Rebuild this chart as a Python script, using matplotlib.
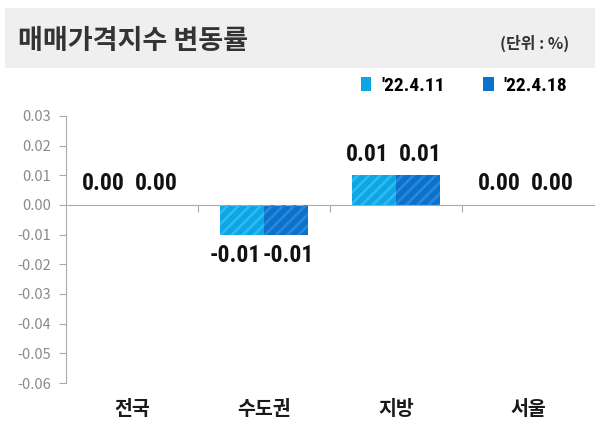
import matplotlib.pyplot as plt
from matplotlib.patches import Rectangle
from matplotlib.transforms import blended_transform_factory
from matplotlib import font_manager
import numpy as np

categories = ["전국", "수도권", "지방", "서울"]
series_names = ["'22.4.11", "'22.4.18"]
values_0411 = [0.00, -0.01, 0.01, 0.00]
values_0418 = [0.00, -0.01, 0.01, 0.00]
yticks = [0.03, 0.02, 0.01, 0.00, -0.01, -0.02, -0.03, -0.04, -0.05, -0.06]

colors = ["#0aa6e6", "#0a72cc"]
hatch_colors = ["#33b8ee", "#2a86d6"]

plt.rcParams['font.family'] = ['Noto Sans CJK KR', 'DejaVu Sans']
plt.rcParams['hatch.linewidth'] = 2.0

# narrow font for the numbers, if one is installed
names = {f.name for f in font_manager.fontManager.ttflist}
narrow = "Roboto"
for cand in ["Liberation Sans Narrow", "DejaVu Sans Condensed", "Roboto Condensed"]:
    if cand in names:
        narrow = cand
        break
num_size = 17 if narrow != "Roboto" else 14

fig = plt.figure(figsize=(6, 4.41), dpi=100)
fig.patch.set_facecolor("white")

# grey title band
fig.patches.append(Rectangle((0.008, 0.846), 0.984, 0.136, transform=fig.transFigure,
                             facecolor="#efefef", edgecolor="none", zorder=0))
fig.text(0.03, 0.907, "매매가격지수 변동률", fontsize=19.5, fontweight="bold",
         color="#333333", va="center", ha="left")
fig.text(0.948, 0.902, "(단위 : %)", fontsize=11.5, fontweight="bold",
         color="#333333", va="center", ha="right")

ax = fig.add_axes([0.11, 0.1315, 0.88, 0.6055])
x = np.arange(len(categories))
w = 1 / 3
shifts = [-5, 2]
for i, vals in enumerate([values_0411, values_0418]):
    pos = x - w / 2 + i * w
    ax.bar(pos, vals, width=w, color=colors[i], edgecolor="none", zorder=2,
           label=series_names[i])
    ax.bar(pos, vals, width=w, fill=False, hatch="///", edgecolor=hatch_colors[i],
           linewidth=0, zorder=3)
    for p, v in zip(pos, vals):
        off, va = (-7, "top") if v < 0 else (7, "bottom")
        ax.annotate(f"{v:.2f}", (p, v), xytext=(shifts[i], off), textcoords="offset points",
                    ha="center", va=va, fontsize=num_size, fontweight="bold",
                    family=narrow, color="#111111")

ax.set_xlim(-0.5, len(categories) - 0.5)
ax.set_ylim(-0.06, 0.03)
ax.set_yticks(yticks)
ax.set_yticklabels([f"{t:.2f}" for t in yticks], color="#8a8a8a", fontsize=10.5)
ax.tick_params(axis="y", direction="out", length=5, color="#aaaaaa", pad=6)

for s in ["top", "right"]:
    ax.spines[s].set_visible(False)
ax.spines["left"].set_color("#aaaaaa")
ax.spines["bottom"].set_position(("data", 0))
ax.spines["bottom"].set_color("#aaaaaa")
ax.set_xticks(np.arange(len(categories) - 1) + 0.5)
ax.set_xticklabels([])
ax.tick_params(axis="x", direction="out", length=5, color="#aaaaaa")

trans = blended_transform_factory(ax.transData, ax.transAxes)
for xi, c in zip(x, categories):
    ax.text(xi, -0.1, c, transform=trans, ha="center", va="center",
            fontsize=14, fontweight="bold", color="#1a1a1a")

ax.legend(loc="center right", bbox_to_anchor=(0.962, 0.806), bbox_transform=fig.transFigure,
          ncol=2, frameon=False, handlelength=0.55, handleheight=0.7, handletextpad=0.5,
          columnspacing=2.0, borderpad=0, prop={"weight": "bold", "size": 14, "family": narrow})

fig.savefig("out.png", dpi=100)
